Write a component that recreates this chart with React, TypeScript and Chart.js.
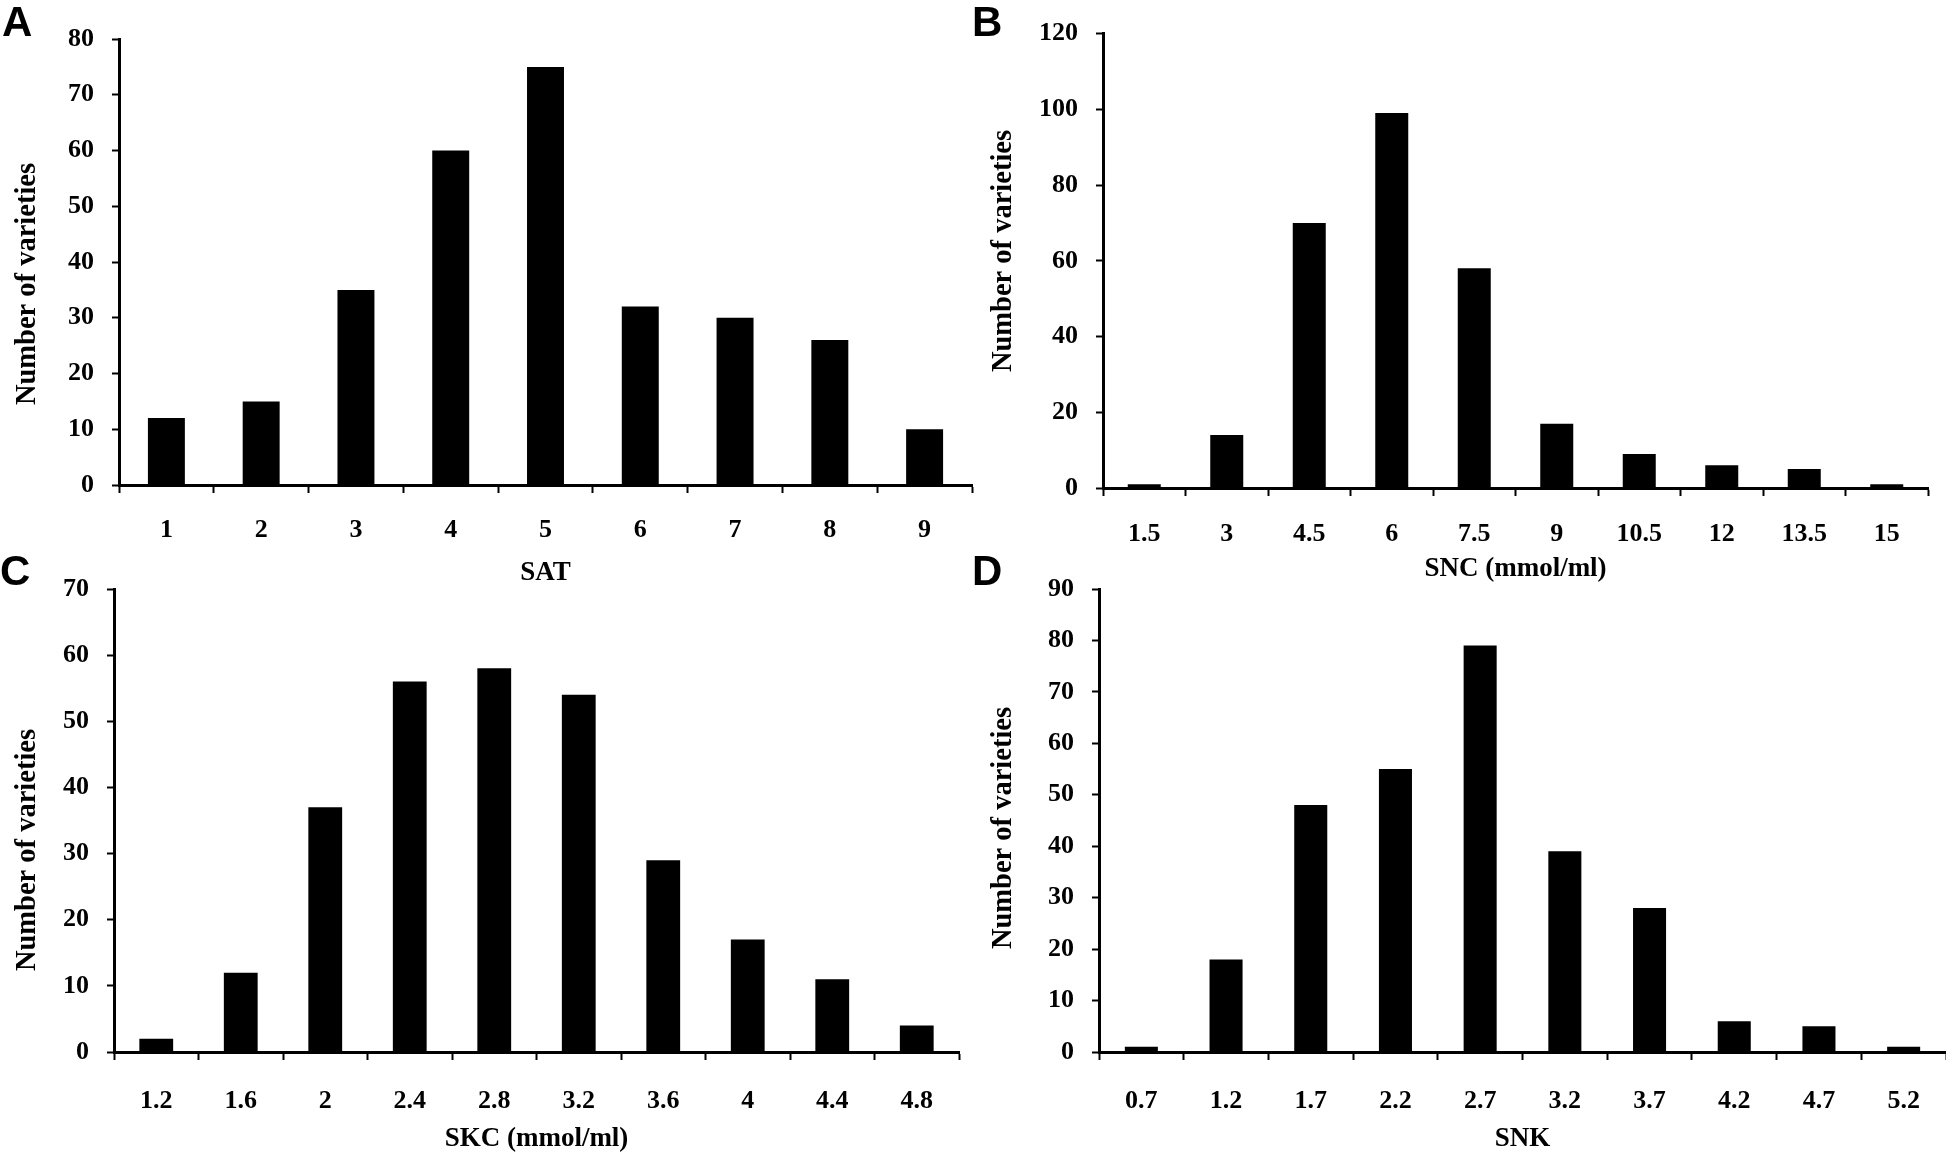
import React, { useEffect, useRef } from "react";
import { Chart, registerables } from "chart.js";

Chart.register(...registerables);

const SERIF = '"Liberation Serif", "Times New Roman", Times, serif';
const SANS = '"Liberation Sans", Arial, Helvetica, sans-serif';

// ---- data ----
const satLabels = ["1", "2", "3", "4", "5", "6", "7", "8", "9"];
const satValues = [12, 15, 35, 60, 75, 32, 30, 26, 10];

const sncLabels = ["1.5", "3", "4.5", "6", "7.5", "9", "10.5", "12", "13.5", "15"];
const sncValues = [1, 14, 70, 99, 58, 17, 9, 6, 5, 1];

const skcLabels = ["1.2", "1.6", "2", "2.4", "2.8", "3.2", "3.6", "4", "4.4", "4.8"];
const skcValues = [2, 12, 37, 56, 58, 54, 29, 17, 11, 4];

const snkLabels = ["0.7", "1.2", "1.7", "2.2", "2.7", "3.2", "3.7", "4.2", "4.7", "5.2"];
const snkValues = [1, 18, 48, 55, 79, 39, 28, 6, 5, 1];

const yTitleText = "Number of varieties";

// ---- layout (page pixels) ----
const W = 1946;
const H = 1152;
const TICK_FONT = 26;
const XTITLE_FONT = 27;
const YTITLE_FONT = 28.5;

type Panel = {
  letter: string;
  labels: string[];
  values: number[];
  max: number;
  step: number;
  xTitle: string;
  originX: number;
  left: number;
  right: number;
  top: number;
  bottom: number;
  yTitleX: number;
  yTitleY: number;
  xTitleY: number;
  xTickPad: number;
  barPct: number;
  letterX: number;
  letterY: number;
};

const panels: Panel[] = [
  {
    letter: "A", labels: satLabels, values: satValues, max: 80, step: 10, xTitle: "SAT",
    originX: 0, left: 119, right: 972, top: 39, bottom: 485,
    yTitleX: 28, yTitleY: 284, xTitleY: 573, xTickPad: 22, barPct: 0.39, letterX: 2, letterY: 1,
  },
  {
    letter: "B", labels: sncLabels, values: sncValues, max: 120, step: 20, xTitle: "SNC (mmol/ml)",
    originX: 973, left: 1103, right: 1928, top: 24, bottom: 488,
    yTitleX: 1004, yTitleY: 251, xTitleY: 569, xTickPad: 23, barPct: 0.4, letterX: 972, letterY: 1,
  },
  {
    letter: "C", labels: skcLabels, values: skcValues, max: 70, step: 10, xTitle: "SKC (mmol/ml)",
    originX: 0, left: 114, right: 959, top: 589, bottom: 1052,
    yTitleX: 28, yTitleY: 850, xTitleY: 1139, xTickPad: 26, barPct: 0.4, letterX: 0, letterY: 550,
  },
  {
    letter: "D", labels: snkLabels, values: snkValues, max: 90, step: 10, xTitle: "SNK",
    originX: 973, left: 1099, right: 1946, top: 589, bottom: 1052,
    yTitleX: 1004, yTitleY: 828, xTitleY: 1139, xTickPad: 26, barPct: 0.39, letterX: 972, letterY: 550,
  },
];

const yTitlePlugin = {
  id: "yTitle",
  afterDraw(chart: any, _args: any, opts: any) {
    if (!opts || !opts.text) return;
    const ctx = chart.ctx;
    ctx.save();
    ctx.translate(opts.x, opts.y);
    ctx.rotate(-Math.PI / 2);
    ctx.font = `bold ${opts.size}px ${SERIF}`;
    ctx.fillStyle = "#000";
    ctx.textAlign = "center";
    ctx.textBaseline = "middle";
    ctx.fillText(opts.text, 0, 0);
    ctx.restore();
  },
};

function makeConfig(p: Panel): any {
  const titleHalf = (XTITLE_FONT * 1.2) / 2;
  const xScaleHeight = p.xTitleY + titleHalf - p.bottom;
  const padBottom = H - p.bottom - xScaleHeight;
  return {
    type: "bar",
    data: {
      labels: p.labels,
      datasets: [
        {
          data: p.values,
          backgroundColor: "#000",
          borderWidth: 0,
          categoryPercentage: 1,
          barPercentage: p.barPct,
        },
      ],
    },
    options: {
      animation: false,
      responsive: false,
      devicePixelRatio: 1,
      events: [],
      layout: {
        padding: {
          left: p.originX,
          top: p.top,
          right: Math.max(0, W - p.right),
          bottom: padBottom,
        },
      },
      plugins: {
        legend: { display: false },
        tooltip: { enabled: false },
        yTitle: { text: yTitleText, x: p.yTitleX, y: p.yTitleY, size: YTITLE_FONT },
      },
      scales: {
        x: {
          type: "category",
          offset: true,
          grid: {
            display: true,
            offset: true,
            drawOnChartArea: false,
            drawTicks: true,
            tickLength: 8,
            tickWidth: 2,
            tickColor: "#000",
          },
          border: { display: true, color: "#000", width: 3 },
          ticks: {
            color: "#000",
            font: { family: SERIF, size: TICK_FONT, weight: "bold" },
            padding: p.xTickPad,
            maxRotation: 0,
            minRotation: 0,
            autoSkip: false,
          },
          title: {
            display: true,
            text: p.xTitle,
            color: "#000",
            font: { family: SERIF, size: XTITLE_FONT, weight: "bold" },
            padding: { top: 0, bottom: 0 },
          },
          afterFit: (s: any) => {
            s.height = xScaleHeight;
          },
        },
        y: {
          min: 0,
          max: p.max,
          grid: {
            display: true,
            drawOnChartArea: false,
            drawTicks: true,
            tickLength: 7,
            tickWidth: 2,
            tickColor: "#000",
          },
          border: { display: true, color: "#000", width: 3 },
          ticks: {
            stepSize: p.step,
            color: "#000",
            font: { family: SERIF, size: TICK_FONT, weight: "bold" },
            padding: 18,
          },
          afterFit: (s: any) => {
            s.width = p.left - p.originX;
          },
        },
      },
    },
    plugins: [yTitlePlugin],
  };
}

function PanelChart({ panel }: { panel: Panel }) {
  const ref = useRef<HTMLCanvasElement | null>(null);
  useEffect(() => {
    if (!ref.current) return;
    const chart = new Chart(ref.current, makeConfig(panel));
    return () => chart.destroy();
  }, [panel]);
  return (
    <canvas
      ref={ref}
      width={W}
      height={H}
      style={{ position: "absolute", left: 0, top: 0, width: W, height: H }}
    />
  );
}

export default function App() {
  return (
    <div
      style={{
        position: "absolute",
        left: 0,
        top: 0,
        width: W,
        height: H,
        background: "#fff",
        overflow: "hidden",
      }}
    >
      {panels.map((p) => (
        <PanelChart key={p.letter} panel={p} />
      ))}
      {panels.map((p) => (
        <div
          key={"l" + p.letter}
          style={{
            position: "absolute",
            left: p.letterX,
            top: p.letterY,
            fontFamily: SANS,
            fontWeight: "bold",
            fontSize: 42,
            lineHeight: "42px",
            color: "#000",
          }}
        >
          {p.letter}
        </div>
      ))}
    </div>
  );
}
